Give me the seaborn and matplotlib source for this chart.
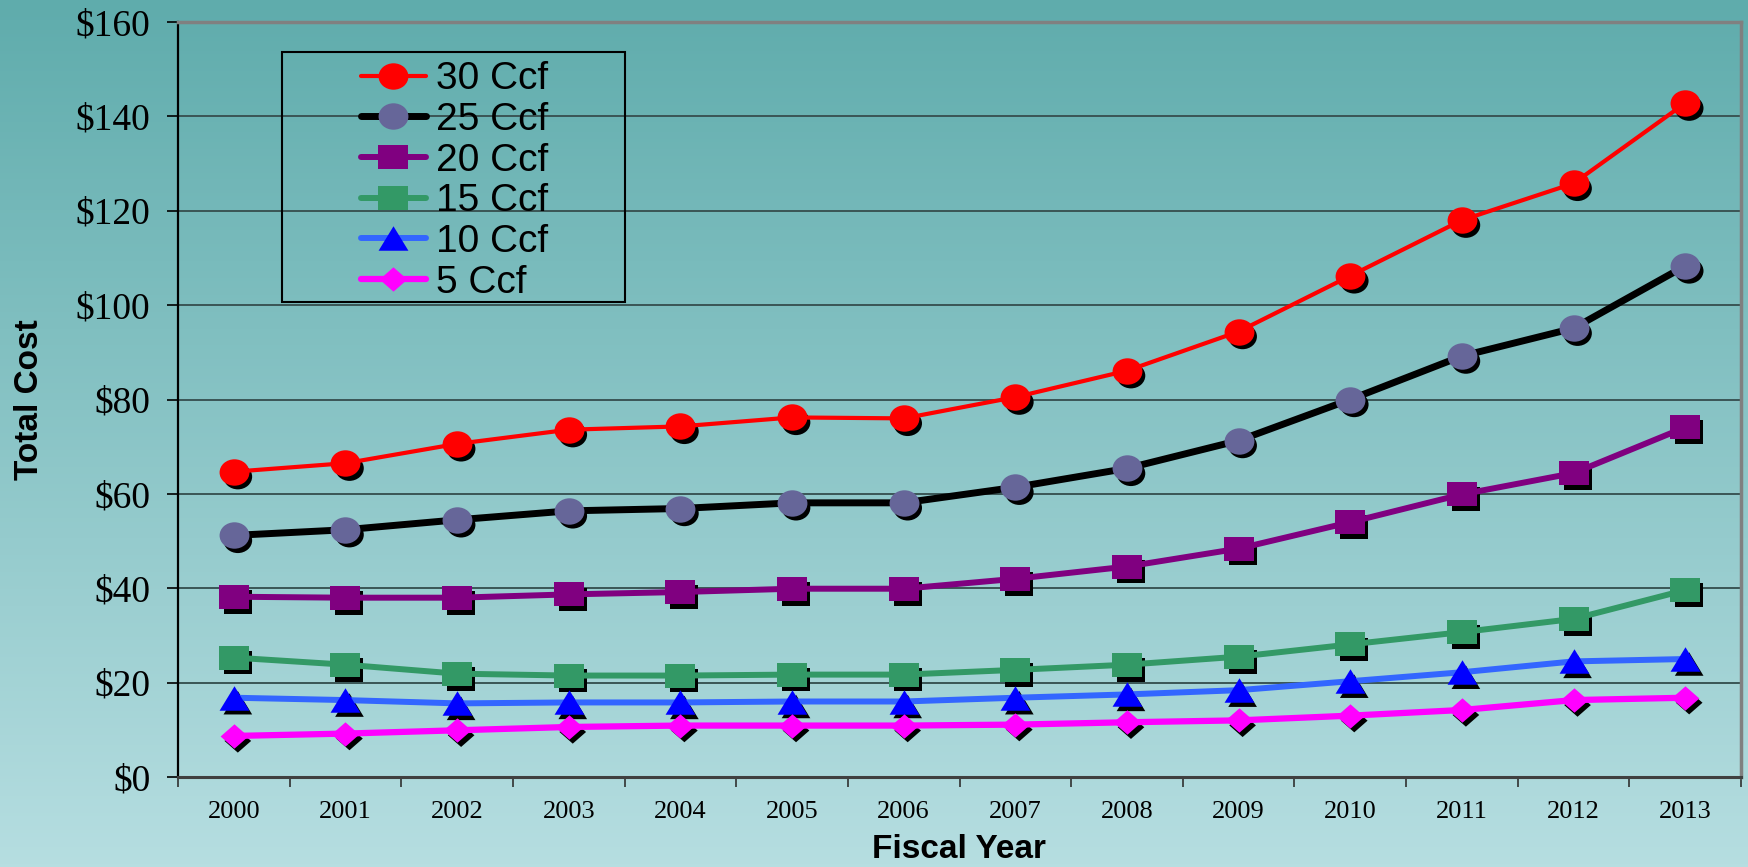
import numpy as np
import pandas as pd
import matplotlib
matplotlib.use("Agg")
import matplotlib.pyplot as plt
from matplotlib.path import Path
from matplotlib.transforms import Affine2D, offset_copy
from matplotlib.patches import Rectangle
import seaborn as sns

# ---- data -------------------------------------------------------------
years = [str(y) for y in range(2000, 2014)]
ccf30 = [64.7, 66.5, 70.6, 73.6, 74.3, 76.2, 76.0, 80.5, 86.1, 94.4, 106.2, 118.0, 125.8, 142.8]
ccf25 = [51.2, 52.4, 54.5, 56.4, 56.9, 58.1, 58.1, 61.4, 65.4, 71.3, 80.0, 89.2, 95.1, 108.3]
ccf20 = [38.2, 38.0, 38.0, 38.7, 39.2, 39.9, 39.9, 42.0, 44.6, 48.4, 54.0, 59.9, 64.4, 74.1]
ccf15 = [25.3, 23.8, 21.9, 21.5, 21.5, 21.7, 21.7, 22.7, 23.8, 25.5, 28.1, 30.7, 33.5, 39.6]
ccf10 = [16.8, 16.3, 15.6, 15.8, 15.8, 16.0, 16.0, 16.8, 17.5, 18.4, 20.3, 22.2, 24.5, 25.0]
ccf5 = [8.7, 9.2, 9.9, 10.6, 10.9, 10.9, 10.9, 11.1, 11.6, 12.0, 13.0, 14.2, 16.3, 16.8]
series_labels = ["30 Ccf", "25 Ccf", "20 Ccf", "15 Ccf", "10 Ccf", "5 Ccf"]
y_ticks = [0, 20, 40, 60, 80, 100, 120, 140, 160]
y_tick_labels = ["$0", "$20", "$40", "$60", "$80", "$100", "$120", "$140", "$160"]

# ---- slightly wide marker shapes --------------------------------------
def stretched(path, sx=1.13, sy=1.0):
    return Path(Affine2D().scale(sx, sy).transform(path.vertices), path.codes)

ellipse = stretched(Path.unit_circle())
rect = stretched(Path([(-1, -1), (1, -1), (1, 1), (-1, 1), (-1, -1)],
                      [Path.MOVETO, Path.LINETO, Path.LINETO, Path.LINETO, Path.CLOSEPOLY]), 1.18)
tri = stretched(Path([(-1, -1), (1, -1), (0, 1), (-1, -1)],
                     [Path.MOVETO, Path.LINETO, Path.LINETO, Path.CLOSEPOLY]), 1.22)
diamond = stretched(Path([(0, -1), (1, 0), (0, 1), (-1, 0), (0, -1)],
                         [Path.MOVETO, Path.LINETO, Path.LINETO, Path.LINETO, Path.CLOSEPOLY]), 1.14)

styles = [
    dict(values=ccf30, line="#FF0000", face="#FF0000", marker=ellipse, ms=21.5, lw=3.0),
    dict(values=ccf25, line="#000000", face="#666699", marker=ellipse, ms=21.5, lw=5.0),
    dict(values=ccf20, line="#800080", face="#800080", marker=rect, ms=21.0, lw=4.3),
    dict(values=ccf15, line="#339966", face="#339966", marker=rect, ms=21.0, lw=4.3),
    dict(values=ccf10, line="#3366FF", face="#0000FF", marker=tri, ms=21.5, lw=4.3),
    dict(values=ccf5, line="#FF00FF", face="#FF00FF", marker=diamond, ms=20.0, lw=4.5),
]

# ---- figure -----------------------------------------------------------
sns.set_theme(style="white")
W, H = 1748, 867
fig = plt.figure(figsize=(W / 100, H / 100), dpi=100)

# vertical teal gradient behind everything
bg = fig.add_axes([0, 0, 1, 1], zorder=-10)
top_c = np.array([95, 172, 172]) / 255.0
bot_c = np.array([182, 222, 225]) / 255.0
t = np.linspace(0, 1, 256)[:, None]
grad = top_c[None, :] * (1 - t) + bot_c[None, :] * t
bg.imshow(grad[:, None, :], aspect="auto", extent=[0, 1, 0, 1], origin="upper")
bg.set_axis_off()

ax = fig.add_axes([178 / W, 1 - 777 / H, (1741 - 178) / W, (777 - 22) / H])
ax.set_facecolor("none")

handles = []
for lab, st in zip(series_labels, styles):
    df = pd.DataFrame({"year": years, "cost": st["values"]})
    # drop shadow under each marker
    shadow = offset_copy(ax.transData, fig=fig, x=4, y=-5, units="dots")
    sns.scatterplot(data=df, x="year", y="cost", ax=ax, marker=st["marker"],
                    s=st["ms"] ** 2 * 0.92, color="black", edgecolor="none",
                    linewidth=0, transform=shadow, zorder=2, legend=False)
    sns.lineplot(data=df, x="year", y="cost", ax=ax, color=st["line"], lw=st["lw"],
                 marker=st["marker"], markersize=st["ms"], markerfacecolor=st["face"],
                 markeredgecolor=st["face"], markeredgewidth=0, label=lab, zorder=3,
                 legend=False)
    handles.append(ax.lines[-1])

# ---- axes styling -----------------------------------------------------
ax.set_xlim(-0.5, len(years) - 0.5)
ax.set_ylim(0, 160)
ax.set_yticks(y_ticks)
ax.set_yticklabels(y_tick_labels)
ax.set_xticks(range(len(years)))
ax.set_xticklabels(years)
ax.set_xticks(np.arange(-0.5, len(years), 1.0), minor=True)

for yv in y_ticks[1:-1]:
    ax.axhline(yv, color="#3a5555", lw=1.4, zorder=1)

serif = "Liberation Serif"
ax.tick_params(axis="y", which="major", direction="out", length=8, width=1.2,
               color="black", pad=12, labelsize=27, left=True)
ax.tick_params(axis="x", which="major", length=0, pad=17, labelsize=19)
ax.tick_params(axis="x", which="minor", direction="out", length=7, width=1.2,
               color="#303030", bottom=True)
for lbl in ax.get_yticklabels() + ax.get_xticklabels():
    lbl.set_fontfamily(serif)
    lbl.set_color("black")

ax.spines["left"].set(color="black", linewidth=1.6)
ax.spines["bottom"].set(color="#404040", linewidth=2.2)
ax.spines["top"].set(color="#808080", linewidth=2.5)
ax.spines["right"].set(color="#808080", linewidth=2.5)
for sp in ax.spines.values():
    sp.set_visible(True)
    sp.set_zorder(4)

label_font = dict(family="Liberation Sans", weight="bold", size=24, color="black")
ax.set_xlabel("Fiscal Year", **label_font)
ax.set_ylabel("Total Cost", **label_font)
ax.xaxis.label.set_va("center")
ax.yaxis.label.set_va("center")
ax.xaxis.set_label_coords(0.5, (777 - 850) / 755)
ax.yaxis.set_label_coords((30 - 178) / 1563, 0.5)

# ---- legend -----------------------------------------------------------
fig.patches.append(Rectangle((282 / W, 1 - 302 / H), (625 - 282) / W, (302 - 52) / H,
                             transform=fig.transFigure, fill=False,
                             edgecolor="black", linewidth=1.5, zorder=5))
leg = ax.legend(handles=handles, labels=series_labels, loc="center",
                bbox_to_anchor=(455 / W, 1 - 181 / H), bbox_transform=fig.transFigure,
                frameon=False, prop=dict(family="Liberation Sans", size=28),
                handlelength=1.65, handletextpad=0.28, labelspacing=0.12,
                borderpad=0.0, labelcolor="black")
leg.set_zorder(6)

fig.savefig("out.png", dpi=100)
